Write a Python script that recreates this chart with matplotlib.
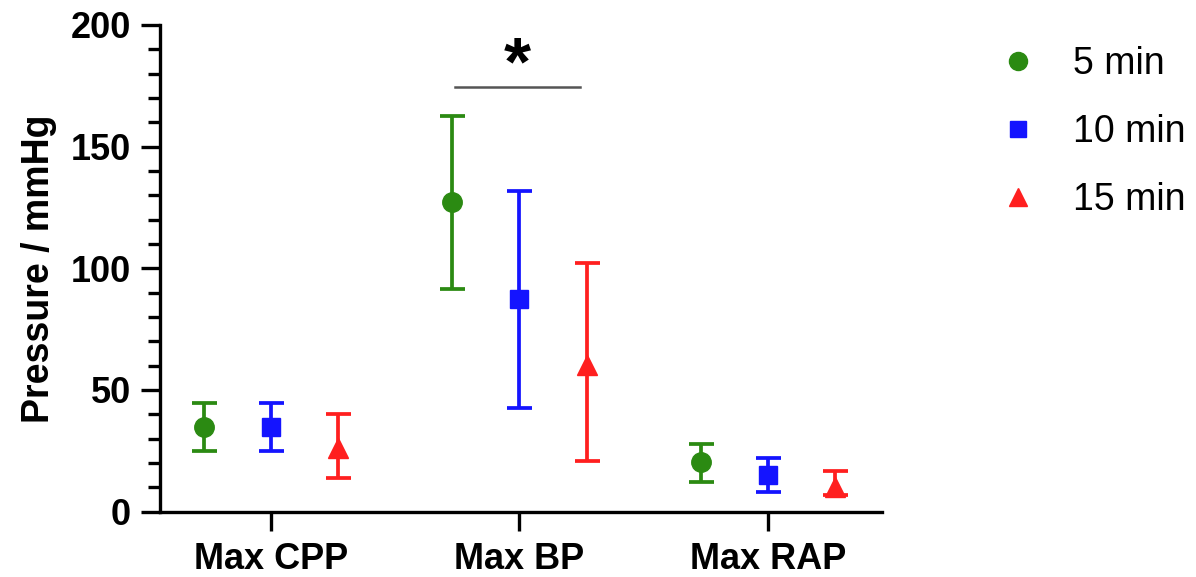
import numpy as np
import matplotlib.pyplot as plt
from matplotlib.lines import Line2D

plt.rcParams['font.family'] = ['Liberation Sans', 'DejaVu Sans']

categories = ['Max CPP', 'Max BP', 'Max RAP']
groups = ['5 min', '10 min', '15 min']

# mean with upper / lower ends of the error bars
mean_5 = [34.9, 127.1, 20.5]
upper_5 = [44.5, 162.6, 27.8]
lower_5 = [24.9, 91.4, 12.0]

mean_10 = [34.6, 87.3, 15.0]
upper_10 = [44.5, 131.9, 21.9]
lower_10 = [24.9, 42.7, 8.2]

mean_15 = [26.0, 60.3, 10.2]
upper_15 = [40.0, 102.0, 16.8]
lower_15 = [13.9, 20.9, 6.8]

sig_y = 174.6

colors = ['#2b8a12', '#1414ff', '#ff1f1f']
markers = ['o', 's', '^']
msizes = [14, 13, 14]
offsets = [-0.27, 0.0, 0.27]

fig = plt.figure(figsize=(11.96, 5.77), dpi=100)
ax = fig.add_axes([0.1338, 0.1133, 0.6037, 0.8434])

x = np.arange(len(categories))
series = [(mean_5, upper_5, lower_5), (mean_10, upper_10, lower_10), (mean_15, upper_15, lower_15)]
for i, (m, up, lo) in enumerate(series):
    m = np.array(m)
    yerr = [m - np.array(lo), np.array(up) - m]
    ax.errorbar(x + offsets[i], m, yerr=yerr, fmt=markers[i], color=colors[i],
                ms=msizes[i], elinewidth=2.7, capsize=9, capthick=2.7, zorder=3)

# significance bar between 5 and 15 min for Max BP
ax.plot([1 + offsets[0] + 0.01, 1 + offsets[2] - 0.025], [sig_y, sig_y], color='#555555', lw=1.8)
ax.text(1 - 0.01, sig_y - 4.6, '*', ha='center', va='bottom', fontsize=50, fontweight='bold')

ax.set_xlim(-0.445, 2.458)
ax.set_ylim(0, 200)
ax.set_xticks(x)
ax.set_xticklabels(categories, fontsize=26, fontweight='bold')
ax.set_yticks([0, 50, 100, 150, 200])
ax.set_yticks(np.arange(0, 201, 10), minor=True)
ax.tick_params(axis='y', labelsize=26, width=2.4, length=14, pad=7)
ax.tick_params(axis='y', which='minor', width=2.4, length=9)
ax.tick_params(axis='x', width=2.4, length=14, pad=8)
for lab in ax.get_yticklabels():
    lab.set_fontweight('bold')
ax.set_ylabel('Pressure / mmHg', fontsize=27, fontweight='bold', labelpad=10)

for side in ['top', 'right']:
    ax.spines[side].set_visible(False)
for side in ['left', 'bottom']:
    ax.spines[side].set_linewidth(2.4)

handles = [Line2D([], [], ls='none', marker=markers[i], color=colors[i], ms=msizes[i] - 1)
           for i in range(3)]
fig.legend(handles, groups, loc='upper left', bbox_to_anchor=(0.8355, 0.920),
           frameon=False, fontsize=27, handlelength=1.0, handletextpad=0.97,
           labelspacing=0.85, borderpad=0, borderaxespad=0)

fig.savefig('out.png', dpi=100)
